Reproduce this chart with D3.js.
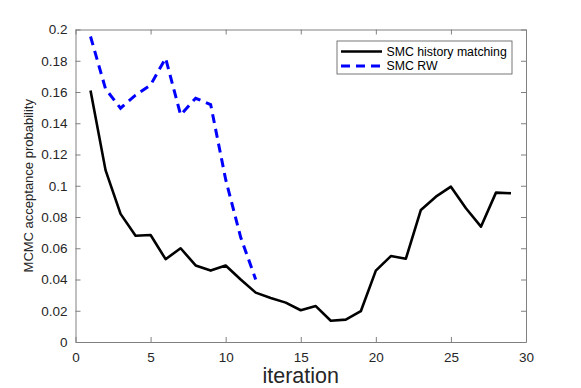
<!DOCTYPE html>
<html>
<head>
<meta charset="utf-8">
<script src="https://cdn.jsdelivr.net/npm/d3@7"></script>
<style>
  body { margin: 0; background: #fff; }
  text { font-family: "Liberation Sans", Arial, sans-serif; }
</style>
</head>
<body>
<div id="chart"></div>
<script>
let iterHM = d3.range(1, 30)
let accHM = [0.161, 0.110, 0.082, 0.068, 0.0685, 0.053, 0.060, 0.049, 0.0457, 0.049,
  0.040, 0.0316, 0.0282, 0.0252, 0.0203, 0.023, 0.0136, 0.0143, 0.0197, 0.0457,
  0.055, 0.0533, 0.0845, 0.093, 0.0994, 0.0856, 0.0738, 0.0956, 0.0952]
let iterRW = d3.range(1, 13)
let accRW = [0.1955, 0.162, 0.1496, 0.158, 0.1645, 0.1816, 0.1453, 0.156, 0.152,
  0.104, 0.067, 0.040]
let xTicks = [0, 5, 10, 15, 20, 25, 30]
let yTicks = [0, 0.02, 0.04, 0.06, 0.08, 0.1, 0.12, 0.14, 0.16, 0.18, 0.2]
let legendLabels = ['SMC history matching', 'SMC RW']

let margin = { top: 29.5, left: 75.5, right: 55, bottom: 46 }
let width = 581 - margin.left - margin.right
let height = 388 - margin.top - margin.bottom

let svg = d3
  .select('#chart')
  .append('svg')
  .attr('width', 581)
  .attr('height', 388)
  .append('g')
  .attr('transform', `translate(${margin.left},${margin.top})`)

let x = d3.scaleLinear().domain([0, 30]).range([0, width])
let y = d3.scaleLinear().domain([0, 0.2]).range([height, 0])

let axisColor = '#808080'
let labelColor = '#262626'

function styleAxis(g, showLabels) {
  g.select('.domain').attr('stroke', axisColor)
  g.selectAll('.tick line').attr('stroke', axisColor)
  g.selectAll('.tick text')
    .attr('fill', labelColor)
    .style('font-size', '13.5px')
    .style('display', showLabels ? null : 'none')
}

svg.append('g')
  .attr('transform', `translate(0,${height})`)
  .call(d3.axisBottom(x).tickValues(xTicks).tickSizeInner(-5).tickSizeOuter(0).tickPadding(10))
  .call(g => styleAxis(g, true))

svg.append('g')
  .call(d3.axisTop(x).tickValues(xTicks).tickSizeInner(-5).tickSizeOuter(0))
  .call(g => styleAxis(g, false))

svg.append('g')
  .call(d3.axisLeft(y).tickValues(yTicks).tickFormat(d3.format('')).tickSizeInner(-5).tickSizeOuter(0).tickPadding(8))
  .call(g => styleAxis(g, true))

svg.append('g')
  .attr('transform', `translate(${width},0)`)
  .call(d3.axisRight(y).tickValues(yTicks).tickSizeInner(-5).tickSizeOuter(0))
  .call(g => styleAxis(g, false))

let line = d3.line().x(d => x(d[0])).y(d => y(d[1]))

svg.append('path')
  .datum(d3.zip(iterHM, accHM))
  .attr('d', line)
  .attr('fill', 'none')
  .attr('stroke', '#000')
  .attr('stroke-width', 2.6)
  .attr('stroke-linejoin', 'round')

svg.append('path')
  .datum(d3.zip(iterRW, accRW))
  .attr('d', line)
  .attr('fill', 'none')
  .attr('stroke', '#0000ff')
  .attr('stroke-width', 3)
  .attr('stroke-dasharray', '9,6')

// legend
let legend = svg.append('g').attr('transform', `translate(${337 - margin.left},${41 - margin.top})`)

legend.append('rect')
  .attr('x', 0)
  .attr('y', 0)
  .attr('width', 175)
  .attr('height', 33)
  .attr('fill', '#fff')
  .attr('stroke', '#555')
  .attr('stroke-width', 0.8)

legend
  .selectAll('.legend-entry')
  .data(legendLabels)
  .enter()
  .append('g')
  .attr('class', 'legend-entry')
  .attr('transform', (d, i) => `translate(0,${10.5 + i * 14.5})`)
  .each(function(d, i) {
    let g = d3.select(this)
    g.append('line')
      .attr('x1', 4)
      .attr('x2', 45)
      .attr('stroke', i === 0 ? '#000' : '#0000ff')
      .attr('stroke-width', i === 0 ? 2.6 : 3)
      .attr('stroke-dasharray', i === 0 ? null : '9,6')
    g.append('text')
      .text(d)
      .attr('x', 49.5)
      .attr('dy', '0.35em')
      .attr('fill', '#000')
      .style('font-size', '12.3px')
  })

svg.append('text')
  .text('MCMC acceptance probability')
  .attr('transform', `translate(${28 - margin.left},${height / 2}) rotate(-90)`)
  .attr('text-anchor', 'middle')
  .attr('dy', '0.35em')
  .attr('fill', labelColor)
  .style('font-size', '13px')

svg.append('text')
  .text('iteration')
  .attr('x', width / 2)
  .attr('y', 382.5 - margin.top)
  .attr('text-anchor', 'middle')
  .attr('fill', labelColor)
  .style('font-size', '21.5px')
</script>
</body>
</html>
